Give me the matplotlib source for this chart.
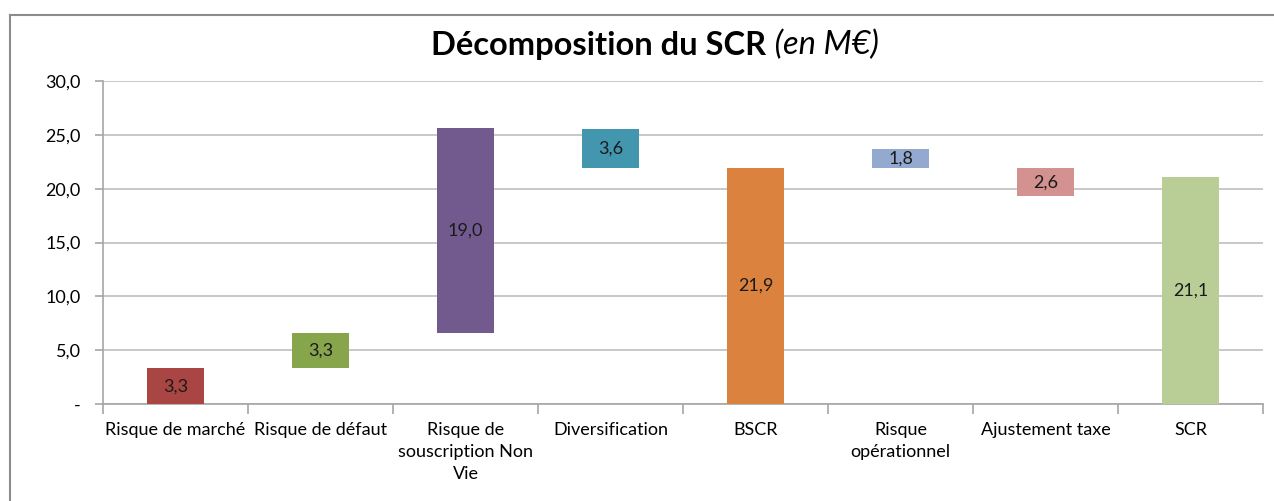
#imports required libraries
import matplotlib
matplotlib.use("Agg")
import matplotlib.pyplot as plt
from matplotlib.lines import Line2D

#data of the waterfall
categories = ["Risque de marché", "Risque de défaut", "Risque de\nsouscription Non\nVie",
              "Diversification", "BSCR", "Risque\nopérationnel", "Ajustement taxe", "SCR"]
bottoms = [0, 3.3, 6.6, 21.9, 0, 21.9, 19.3, 0]
heights = [3.3, 3.3, 19.0, 3.6, 21.9, 1.8, 2.6, 21.1]
colors = ["#A94643", "#87A64B", "#725A8F", "#4297AF", "#DB823E", "#93A9D0", "#D39190", "#B9CE97"]
yticks = [0, 5, 10, 15, 20, 25, 30]
ytick_labels = ["-", "5,0", "10,0", "15,0", "20,0", "25,0", "30,0"]

plt.rcParams['font.family'] = ['Lato', 'DejaVu Sans']
grey = "#A6A6A6"

#create figure and axes
fig = plt.figure(figsize=(12.74, 5.01), dpi=100)
ax = fig.add_axes([0.0808, 0.1936, 0.9106, 0.6447])

#frame of the chart (only top and left are visible)
fx, fy = 10/1274, 1 - 15/501
fig.add_artist(Line2D([fx, 1.0], [fy, fy], transform=fig.transFigure, color="#8C8C8C", linewidth=1.5))
fig.add_artist(Line2D([fx, fx], [0.0, fy], transform=fig.transFigure, color="#8C8C8C", linewidth=1.5))

x = list(range(len(categories)))
ax.bar(x, heights, bottom=bottoms, width=0.39, color=colors, zorder=3)

#labels inside the bars
for xi, b, h in zip(x, bottoms, heights):
    ax.text(xi, b + h / 2, f"{h:.1f}".replace(".", ","), ha="center", va="center",
            fontsize=13, color="#1a1a1a", zorder=4)

#axes setup
ax.set_xlim(-0.5, len(categories) - 0.5)
ax.set_ylim(0, 30)
ax.set_yticks(yticks)
ax.set_yticklabels(ytick_labels, fontsize=13)
ax.yaxis.grid(True, color="#BFBFBF", linewidth=1.2, zorder=0)
ax.set_xticks(x)
ax.set_xticklabels(categories, fontsize=13, linespacing=1.45, va="top")
ax.set_xticks([i - 0.5 for i in range(len(categories) + 1)], minor=True)
ax.tick_params(axis="x", which="major", length=0, pad=13)
ax.tick_params(axis="x", which="minor", length=7, color=grey, width=1.2)
ax.tick_params(axis="y", length=6, color=grey, width=1.2, pad=10)
for s in ["top", "right"]:
    ax.spines[s].set_visible(False)
for s in ["left", "bottom"]:
    ax.spines[s].set_color(grey)
    ax.spines[s].set_linewidth(1.2)

#title with bold and italic parts
r = fig.canvas.get_renderer()
t1 = fig.text(0.5, 1 - 45/501, "Décomposition du SCR", fontsize=23.5, fontweight="bold",
              ha="left", va="center")
t2 = fig.text(0.5, 1 - 45/501, " (en M€)", fontsize=23.5, fontstyle="italic",
              ha="left", va="center")
w1 = t1.get_window_extent(r).width / fig.bbox.width
w2 = t2.get_window_extent(r).width / fig.bbox.width
start = 655/1274 - (w1 + w2) / 2
t1.set_x(start)
t2.set_x(start + w1)

fig.savefig("out.png", dpi=100)
